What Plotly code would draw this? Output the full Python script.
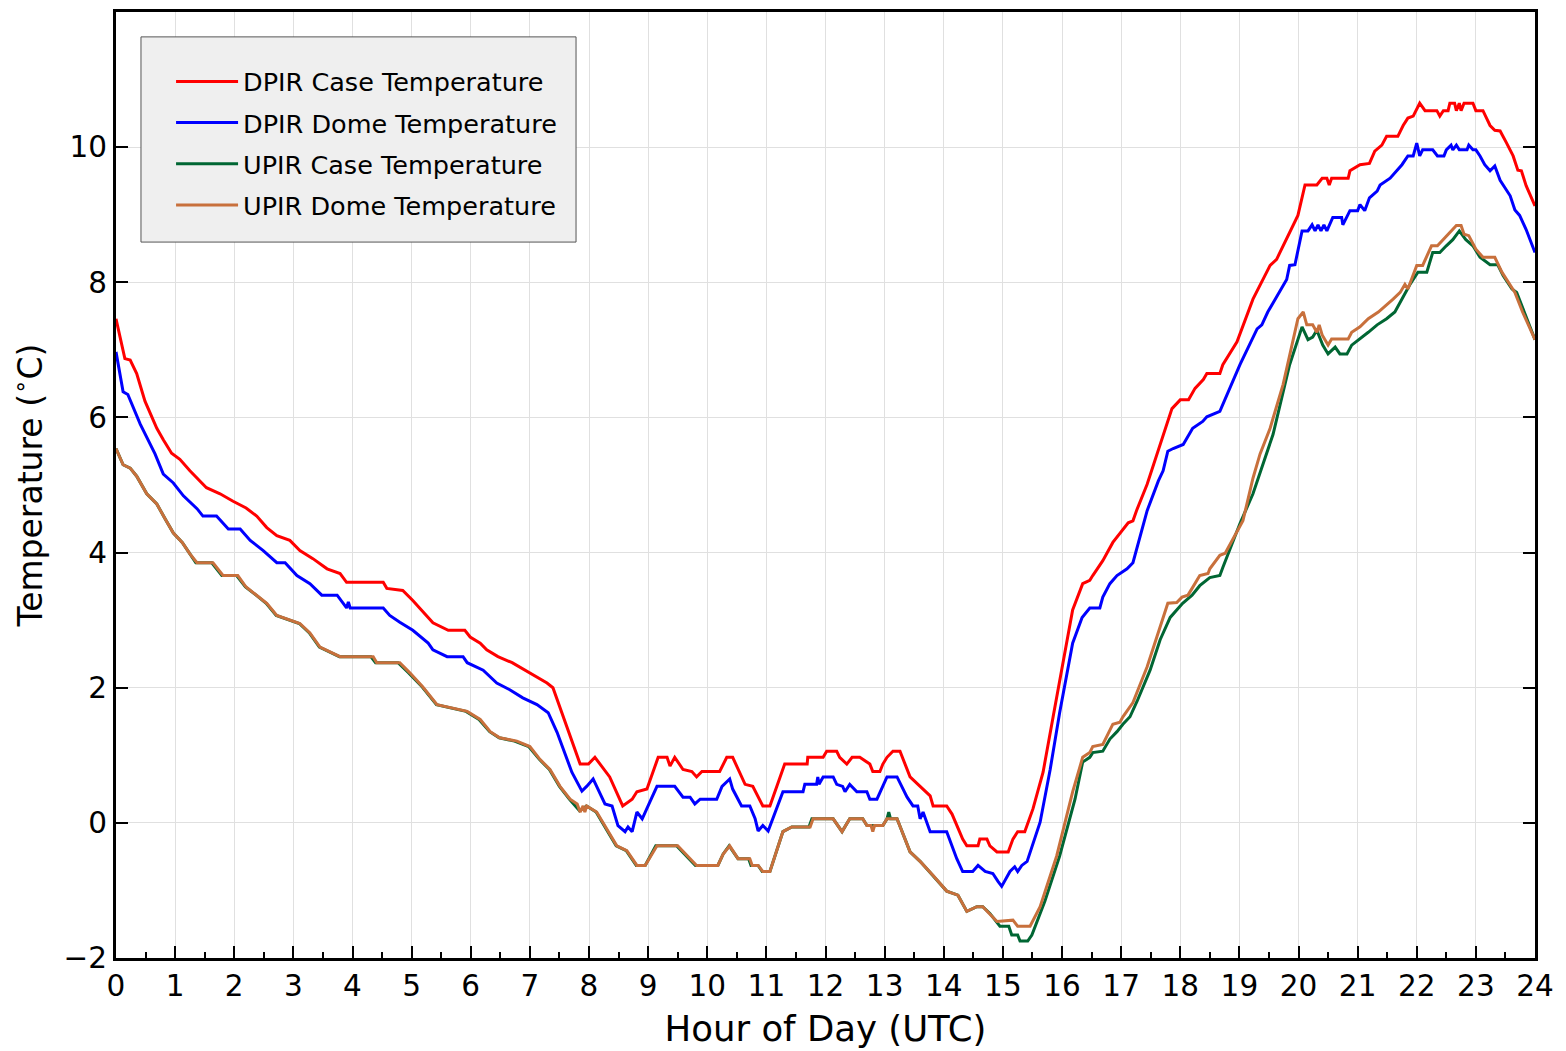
import plotly.graph_objects as go

# ---- DPIR case temperature (hour UTC, deg C) ----
dpir_case_hours = [
    0.00, 0.15, 0.24, 0.35, 0.49, 0.69, 0.80, 0.94, 1.08, 1.25, 1.53, 1.76, 1.98, 2.20, 2.38,
    2.55, 2.72, 2.94, 3.11, 3.33, 3.57, 3.79, 3.90, 4.52, 4.58, 4.85, 5.02, 5.17, 5.36, 5.62,
    5.90, 5.99, 6.16, 6.27, 6.46, 6.70, 6.92, 7.12, 7.29, 7.39, 7.85, 7.99, 8.10, 8.35, 8.57,
    8.73, 8.81, 8.98, 9.17, 9.32, 9.37, 9.45, 9.59, 9.74, 9.82, 9.91, 10.21, 10.33, 10.43,
    10.64, 10.77, 10.94, 11.06, 11.31, 11.69, 11.70, 11.96, 12.02, 12.19, 12.24, 12.36, 12.45,
    12.58, 12.75, 12.80, 12.92, 12.97, 13.04, 13.14, 13.26, 13.43, 13.60, 13.77, 13.82, 14.05,
    14.14, 14.32, 14.39, 14.58, 14.61, 14.73, 14.78, 14.90, 15.09, 15.17, 15.25, 15.37, 15.51,
    15.68, 15.85, 16.02, 16.18, 16.35, 16.47, 16.52, 16.60, 16.69, 16.86, 16.98, 17.12, 17.20,
    17.26, 17.44, 17.66, 17.86, 18.00, 18.14, 18.25, 18.39, 18.45, 18.67, 18.72, 18.96, 19.23,
    19.52, 19.63, 19.85, 19.99, 20.11, 20.31, 20.40, 20.48, 20.52, 20.56, 20.84, 20.87, 21.04,
    21.20, 21.29, 21.41, 21.49, 21.68, 21.77, 21.85, 21.94, 22.05, 22.14, 22.34, 22.39, 22.45,
    22.53, 22.56, 22.64, 22.67, 22.72, 22.75, 22.80, 22.95, 23.00, 23.12, 23.18, 23.24, 23.32,
    23.41, 23.52, 23.63, 23.71, 23.77, 23.85, 24.00,
]
dpir_case_temp = [
    7.46, 6.87, 6.85, 6.65, 6.24, 5.84, 5.67, 5.47, 5.38, 5.21, 4.96, 4.87, 4.76, 4.66, 4.54,
    4.37, 4.25, 4.18, 4.03, 3.91, 3.76, 3.69, 3.56, 3.56, 3.47, 3.44, 3.29, 3.15, 2.96, 2.85,
    2.85, 2.75, 2.66, 2.56, 2.46, 2.37, 2.26, 2.16, 2.07, 2.00, 0.87, 0.87, 0.97, 0.68, 0.25,
    0.35, 0.46, 0.50, 0.97, 0.97, 0.84, 0.97, 0.79, 0.76, 0.68, 0.76, 0.76, 0.97, 0.97,
    0.57, 0.54, 0.25, 0.25, 0.87, 0.87, 0.97, 0.97, 1.06, 1.06, 0.97, 0.87, 0.97,
    0.97, 0.87, 0.76, 0.76, 0.87, 0.97, 1.06, 1.06, 0.68, 0.54, 0.40, 0.25, 0.25,
    0.13, -0.24, -0.34, -0.34, -0.24, -0.24, -0.34, -0.43, -0.43, -0.24, -0.13, -0.13, 0.21,
    0.75, 1.57, 2.37, 3.15, 3.54, 3.59, 3.66, 3.76, 3.88, 4.15, 4.28, 4.44, 4.47,
    4.62, 5.01, 5.60, 6.13, 6.26, 6.26, 6.43, 6.56, 6.65, 6.65, 6.78, 7.12, 7.75,
    8.25, 8.34, 8.74, 8.99, 9.44, 9.44, 9.54, 9.54, 9.44, 9.54, 9.54, 9.65, 9.74,
    9.76, 9.94, 10.03, 10.16, 10.16, 10.32, 10.43, 10.46, 10.65, 10.54, 10.54, 10.46, 10.54,
    10.54, 10.65, 10.65, 10.54, 10.65, 10.54, 10.65, 10.65, 10.54, 10.54, 10.43, 10.32, 10.25,
    10.24, 10.06, 9.87, 9.66, 9.65, 9.43, 9.13,
]

# ---- DPIR dome temperature ----
dpir_dome_hours = [
    0.00, 0.12, 0.20, 0.41, 0.66, 0.80, 0.97, 1.14, 1.37, 1.47, 1.70, 1.90, 2.10, 2.27, 2.49,
    2.72, 2.86, 3.06, 3.28, 3.48, 3.74, 3.90, 3.93, 3.96, 4.52, 4.63, 4.80, 5.02, 5.28, 5.36,
    5.60, 5.87, 5.94, 6.21, 6.44, 6.66, 6.88, 7.12, 7.31, 7.46, 7.71, 7.88, 7.96, 8.07, 8.27,
    8.39, 8.49, 8.61, 8.66, 8.73, 8.81, 8.90, 9.03, 9.15, 9.45, 9.59, 9.71, 9.79, 9.88, 10.16,
    10.25, 10.38, 10.43, 10.52, 10.58, 10.72, 10.81, 10.86, 10.94, 11.03, 11.28, 11.62, 11.65,
    11.85, 11.87, 11.89, 11.96, 12.13, 12.19, 12.29, 12.33, 12.41, 12.53, 12.70, 12.75, 12.87,
    13.04, 13.21, 13.38, 13.48, 13.56, 13.60, 13.65, 13.77, 14.05, 14.22, 14.32, 14.49, 14.58,
    14.70, 14.83, 14.92, 14.98, 15.12, 15.20, 15.25, 15.32, 15.41, 15.63, 15.80, 15.96, 16.18,
    16.34, 16.47, 16.64, 16.69, 16.81, 16.93, 17.10, 17.20, 17.27, 17.44, 17.63, 17.71, 17.79,
    17.88, 18.05, 18.21, 18.38, 18.45, 18.67, 19.01, 19.30, 19.38, 19.48, 19.80, 19.85, 19.94,
    20.06, 20.16, 20.23, 20.28, 20.33, 20.38, 20.43, 20.48, 20.58, 20.73, 20.75, 20.87, 21.00,
    21.04, 21.12, 21.20, 21.33, 21.38, 21.55, 21.75, 21.85, 21.94, 22.00, 22.05, 22.10, 22.27,
    22.35, 22.46, 22.50, 22.58, 22.61, 22.67, 22.72, 22.85, 22.88, 22.95, 23.00, 23.07, 23.15,
    23.24, 23.32, 23.41, 23.58, 23.66, 23.74, 23.85, 24.00,
]
dpir_dome_temp = [
    6.97, 6.38, 6.34, 5.90, 5.46, 5.16, 5.03, 4.84, 4.65, 4.54, 4.54, 4.35, 4.35, 4.18, 4.03,
    3.85, 3.85, 3.66, 3.54, 3.37, 3.37, 3.18, 3.27, 3.18, 3.18, 3.07, 2.97, 2.85, 2.66, 2.56,
    2.46, 2.46, 2.37, 2.26, 2.07, 1.97, 1.85, 1.75, 1.63, 1.34, 0.75, 0.47, 0.54, 0.65, 0.28,
    0.25, -0.04, -0.13, -0.06, -0.13, 0.16, 0.06, 0.31, 0.54, 0.54, 0.38, 0.38, 0.28, 0.35, 0.35,
    0.54, 0.65, 0.50, 0.35, 0.25, 0.25, 0.06, -0.12, -0.04, -0.12, 0.46, 0.46, 0.57,
    0.57, 0.68, 0.57, 0.68, 0.68, 0.57, 0.54, 0.46, 0.57, 0.46, 0.46, 0.35, 0.35,
    0.68, 0.68, 0.38, 0.25, 0.25, 0.06, 0.16, -0.13, -0.13, -0.53, -0.72, -0.72, -0.63,
    -0.72, -0.75, -0.87, -0.94, -0.72, -0.65, -0.72, -0.63, -0.57, 0.01, 0.79, 1.63, 2.66,
    3.04, 3.18, 3.18, 3.34, 3.54, 3.66, 3.76, 3.85, 4.07, 4.62, 5.06, 5.21, 5.50,
    5.54, 5.60, 5.84, 5.94, 6.01, 6.09, 6.78, 7.31, 7.37, 7.56, 8.04, 8.25, 8.26,
    8.76, 8.76, 8.85, 8.76, 8.85, 8.76, 8.85, 8.76, 8.96, 8.96, 8.85, 9.06, 9.06,
    9.15, 9.06, 9.25, 9.35, 9.44, 9.54, 9.74, 9.87, 9.87, 10.06, 9.87, 9.96, 9.96,
    9.87, 9.87, 9.96, 10.03, 9.96, 10.03, 9.96, 9.96, 10.03, 9.96, 9.96, 9.87, 9.74,
    9.65, 9.72, 9.51, 9.28, 9.07, 8.99, 8.78, 8.44,
]

# ---- UPIR case temperature ----
upir_case_hours = [
    0.00, 0.12, 0.24, 0.35, 0.52, 0.69, 0.83, 0.97, 1.12, 1.25, 1.35, 1.62, 1.79, 2.04, 2.19,
    2.37, 2.54, 2.71, 2.93, 3.10, 3.27, 3.44, 3.78, 4.31, 4.39, 4.77, 4.95, 5.18, 5.42, 5.66,
    5.92, 6.14, 6.32, 6.48, 6.74, 6.98, 7.16, 7.33, 7.50, 7.67, 7.84, 7.96, 8.12, 8.29, 8.46,
    8.63, 8.80, 8.95, 9.13, 9.48, 9.69, 9.80, 10.18, 10.27, 10.37, 10.49, 10.52, 10.70, 10.74,
    10.86, 10.93, 11.06, 11.28, 11.43, 11.72, 11.77, 12.13, 12.28, 12.41, 12.63, 12.70, 12.97,
    13.04, 13.07, 13.10, 13.21, 13.43, 13.60, 13.82, 14.05, 14.24, 14.39, 14.56, 14.66, 14.78,
    14.95, 15.10, 15.15, 15.25, 15.29, 15.42, 15.49, 15.71, 15.96, 16.22, 16.35, 16.47, 16.52,
    16.69, 16.81, 16.93, 17.03, 17.15, 17.27, 17.49, 17.66, 17.83, 17.94, 18.04, 18.20, 18.33,
    18.50, 18.67, 18.72, 19.01, 19.23, 19.57, 19.85, 20.06, 20.16, 20.24, 20.31, 20.41, 20.50,
    20.62, 20.70, 20.82, 20.90, 21.04, 21.18, 21.33, 21.49, 21.63, 21.75, 21.88, 22.02, 22.17,
    22.27, 22.39, 22.50, 22.61, 22.72, 22.83, 22.95, 23.07, 23.24, 23.37, 23.46, 23.61, 23.69,
    24.00,
]
upir_case_temp = [
    5.54, 5.30, 5.25, 5.13, 4.87, 4.72, 4.50, 4.29, 4.15, 3.98, 3.85, 3.85, 3.66, 3.66, 3.49,
    3.37, 3.25, 3.07, 3.00, 2.95, 2.81, 2.60, 2.46, 2.46, 2.37, 2.37, 2.22, 2.01, 1.75, 1.70,
    1.65, 1.53, 1.35, 1.26, 1.21, 1.13, 0.94, 0.79, 0.54, 0.35, 0.18, 0.25, 0.16, -0.09, -0.34,
    -0.41, -0.63, -0.63, -0.34, -0.34, -0.53, -0.63, -0.63, -0.46, -0.34, -0.49, -0.53, -0.53, -0.63,
    -0.63, -0.72, -0.72, -0.13, -0.06, -0.06, 0.06, 0.06, -0.13, 0.06, 0.06, -0.04, -0.04,
    0.06, 0.16, 0.06, 0.06, -0.43, -0.57, -0.78, -1.01, -1.07, -1.31, -1.24, -1.24, -1.34,
    -1.53, -1.53, -1.66, -1.66, -1.75, -1.75, -1.66, -1.16, -0.49, 0.35, 0.90, 0.97, 1.04,
    1.06, 1.24, 1.35, 1.46, 1.57, 1.80, 2.26, 2.71, 3.04, 3.15, 3.25, 3.37, 3.51,
    3.63, 3.66, 3.78, 4.43, 4.87, 5.75, 6.78, 7.34, 7.15, 7.19, 7.29, 7.07, 6.94,
    7.04, 6.94, 6.94, 7.07, 7.16, 7.26, 7.37, 7.46, 7.56, 7.75, 7.96, 8.15, 8.15,
    8.44, 8.44, 8.54, 8.63, 8.76, 8.63, 8.54, 8.37, 8.26, 8.26, 8.10, 7.90, 7.85,
    7.15,
]

# ---- UPIR dome temperature ----
upir_dome_hours = [
    0.00, 0.12, 0.24, 0.35, 0.52, 0.69, 0.83, 0.97, 1.12, 1.25, 1.37, 1.64, 1.81, 2.06, 2.20,
    2.38, 2.55, 2.72, 2.94, 3.11, 3.28, 3.45, 3.79, 4.35, 4.41, 4.80, 4.97, 5.19, 5.43, 5.68,
    5.94, 6.16, 6.33, 6.49, 6.78, 7.00, 7.17, 7.34, 7.51, 7.68, 7.80, 7.85, 7.90, 7.93, 7.96,
    8.13, 8.30, 8.47, 8.64, 8.81, 8.95, 9.15, 9.50, 9.71, 9.82, 10.18, 10.27, 10.38, 10.50,
    10.52, 10.72, 10.76, 10.86, 10.94, 11.06, 11.28, 11.43, 11.74, 11.79, 12.13, 12.28, 12.41,
    12.63, 12.70, 12.77, 12.80, 12.83, 12.97, 13.04, 13.21, 13.43, 13.60, 13.82, 14.05, 14.24,
    14.39, 14.56, 14.66, 14.90, 15.17, 15.25, 15.46, 15.63, 15.91, 16.18, 16.35, 16.47, 16.52,
    16.69, 16.86, 16.98, 17.03, 17.20, 17.44, 17.79, 17.94, 18.03, 18.13, 18.20, 18.33, 18.47,
    18.50, 18.67, 18.76, 19.06, 19.23, 19.35, 19.52, 19.74, 19.89, 19.99, 20.08, 20.14, 20.24,
    20.31, 20.35, 20.40, 20.50, 20.56, 20.84, 20.90, 21.04, 21.18, 21.35, 21.49, 21.60, 21.72,
    21.80, 21.85, 22.00, 22.10, 22.25, 22.35, 22.45, 22.56, 22.67, 22.75, 22.80, 22.88, 23.00,
    23.12, 23.32, 23.44, 23.58, 23.66, 23.79, 24.00,
]
upir_dome_temp = [
    5.54, 5.30, 5.25, 5.13, 4.87, 4.72, 4.50, 4.29, 4.15, 3.98, 3.85, 3.85, 3.66, 3.66, 3.49,
    3.37, 3.25, 3.07, 3.00, 2.95, 2.81, 2.60, 2.46, 2.46, 2.37, 2.37, 2.22, 2.01, 1.75, 1.70,
    1.65, 1.53, 1.35, 1.26, 1.21, 1.13, 0.94, 0.79, 0.54, 0.35, 0.28, 0.16, 0.25, 0.16, 0.25,
    0.16, -0.09, -0.34, -0.41, -0.63, -0.63, -0.34, -0.34, -0.53, -0.63, -0.63, -0.46, -0.34, -0.49,
    -0.53, -0.53, -0.63, -0.63, -0.72, -0.72, -0.13, -0.06, -0.06, 0.06, 0.06, -0.13, 0.06,
    0.06, -0.04, -0.04, -0.13, -0.04, -0.04, 0.06, 0.06, -0.43, -0.57, -0.78, -1.01, -1.07,
    -1.31, -1.24, -1.24, -1.46, -1.44, -1.53, -1.53, -1.24, -0.49, 0.46, 0.97, 1.04, 1.13,
    1.16, 1.46, 1.49, 1.57, 1.78, 2.31, 3.25, 3.26, 3.34, 3.37, 3.47, 3.66, 3.69,
    3.76, 3.96, 3.99, 4.47, 5.10, 5.46, 5.84, 6.49, 7.07, 7.46, 7.56, 7.37, 7.37,
    7.26, 7.37, 7.22, 7.07, 7.16, 7.16, 7.26, 7.34, 7.46, 7.56, 7.66, 7.75, 7.85,
    7.97, 7.90, 8.25, 8.25, 8.54, 8.54, 8.63, 8.74, 8.84, 8.84, 8.71, 8.69, 8.49,
    8.37, 8.37, 8.15, 7.96, 7.85, 7.56, 7.15,
]

series = [
    ("DPIR Case Temperature", dpir_case_hours, dpir_case_temp, "#ff0000"),
    ("DPIR Dome Temperature", dpir_dome_hours, dpir_dome_temp, "#0000ff"),
    ("UPIR Case Temperature", upir_case_hours, upir_case_temp, "#006633"),
    ("UPIR Dome Temperature", upir_dome_hours, upir_dome_temp, "#c8703c"),
]

hour_ticks = list(range(0, 25))
temp_ticks = [-2, 0, 2, 4, 6, 8, 10]

FONT = "DejaVu Sans, Liberation Sans, sans-serif"

fig = go.Figure()
for name, hrs, temps, color in series:
    fig.add_trace(go.Scatter(
        x=hrs, y=temps, mode="lines", name=name, legendgroup=name,
        line=dict(color=color, width=3),
    ))

# grey framed panel behind the legend entries
fig.add_shape(
    type="rect", xref="paper", yref="paper",
    x0=0.0176, x1=0.3242, y0=0.7568, y1=0.9737,
    fillcolor="#efefef", line=dict(color="#555555", width=1), layer="above",
)

fig.update_layout(
    width=1566, height=1051,
    margin=dict(l=116, r=31, t=9, b=92),
    paper_bgcolor="white", plot_bgcolor="white",
    font=dict(family=FONT, color="black", size=26),
    showlegend=True,
    legend=dict(
        x=0.0388, y=0.951, xanchor="left", yanchor="top",
        bgcolor="rgba(0,0,0,0)", borderwidth=0,
        font=dict(family=FONT, size=25.5, color="black"),
        tracegroupgap=5, itemwidth=62,
    ),
)

fig.update_xaxes(
    range=[0, 24], tickmode="array", tickvals=hour_ticks,
    ticktext=[str(h) for h in hour_ticks],
    ticks="inside", ticklen=12, tickwidth=2, tickcolor="black",
    minor=dict(ticks="inside", dtick=0.5, ticklen=6, tickwidth=2, tickcolor="black", showgrid=False),
    showgrid=True, gridcolor="#e0e0e0", gridwidth=1,
    showline=True, linecolor="black", linewidth=3, mirror=True,
    zeroline=False,
    tickfont=dict(family=FONT, size=29.5, color="black"),
    title=dict(text="Hour of Day (UTC)", font=dict(family=FONT, size=35.5, color="black"), standoff=14),
)

fig.update_yaxes(
    range=[-2, 12], tickmode="array", tickvals=temp_ticks,
    ticktext=["\u22122" if t < 0 else str(t) for t in temp_ticks],
    ticks="inside", ticklen=12, tickwidth=2, tickcolor="black",
    showgrid=True, gridcolor="#e0e0e0", gridwidth=1,
    showline=True, linecolor="black", linewidth=3, mirror="ticks",
    zeroline=False,
    tickfont=dict(family=FONT, size=29.5, color="black"),
    title=dict(text="Temperature (<sup>\u2218</sup>C)", font=dict(family=FONT, size=33, color="black"), standoff=12),
)

fig.write_html("out.html")
